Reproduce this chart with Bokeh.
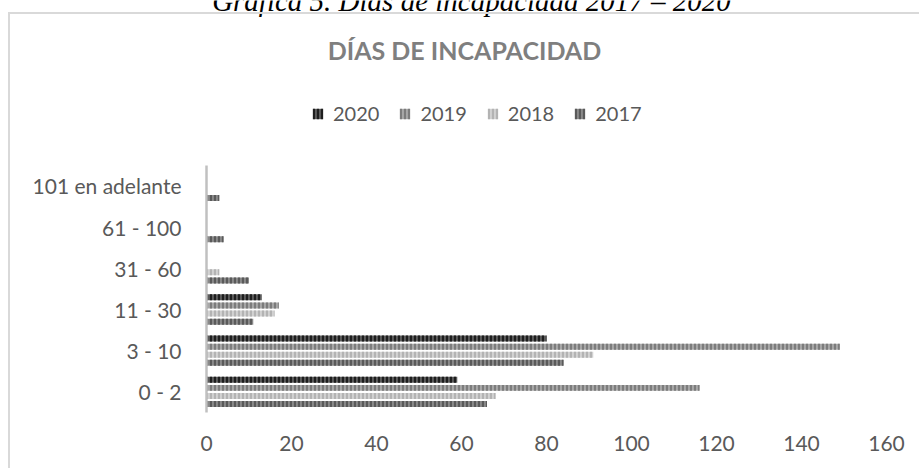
from bokeh.plotting import figure
from bokeh.models import (ColumnDataSource, Range1d, FixedTicker, Legend,
                          LegendItem, Label, InlineStyleSheet)
from bokeh.transform import dodge
from bokeh.embed import file_html
from bokeh.resources import INLINE

# ---- data ----
categories = ["0 - 2", "3 - 10", "11 - 30", "31 - 60", "61 - 100", "101 en adelante"]
v2017 = [66, 84, 11, 10, 4, 3]
v2018 = [68, 91, 16, 3, 0, 0]
v2019 = [116, 149, 17, 0, 0, 0]
v2020 = [59, 80, 13, 0, 0, 0]
x_ticks = [0, 20, 40, 60, 80, 100, 120, 140, 160]
title_text = "DÍAS DE INCAPACIDAD"
caption_text = "Gráfica 5. Días de incapacidad 2017 – 2020"

# category slots on the vertical axis (one unit per category)
ypos = [i + 0.5 for i in range(len(categories))]
source = ColumnDataSource(dict(cat=categories, ypos=ypos, v2017=v2017, v2018=v2018,
                               v2019=v2019, v2020=v2020))

FONT = "Lato"
TXT = "#595959"

p = figure(width=919, height=468, output_backend="svg", toolbar_location=None,
           y_range=Range1d(0, 10), x_range=Range1d(0, 160),
           min_border_left=206, min_border_right=33, min_border_top=0,
           min_border_bottom=56, frame_width=680, frame_height=412)
# light grey chart-area border (starts at x=8, y=12 and runs past the window)
# and the wide letter spacing of the chart title
p.stylesheets = [InlineStyleSheet(css=(
    ":host::after { content: ''; position: absolute; left: 8px; top: 12px; "
    "width: 1200px; height: 1200px; border: 2px solid #d9d9d9; "
    "pointer-events: none; box-sizing: border-box; } "
    "text[font-size='25px'] { letter-spacing: 4.5px; }"))]
p.outline_line_color = None
p.xgrid.visible = False
p.ygrid.visible = False
p.background_fill_color = "white"
p.border_fill_color = "white"

series = [
    ("2017", "v2017", -0.295, "#8a8a8a", "#5a5a5a"),
    ("2018", "v2018", -0.098, "#d2d2d2", "#b3b3b3"),
    ("2019", "v2019", 0.098, "#a8a8a8", "#7c7c7c"),
    ("2020", "v2020", 0.295, "#5c5c5c", "#1e1e1e"),
]
renderers = {}
for name, col, off, fill, hatch in series:
    r = p.hbar(y=dodge("ypos", off), right=col, left=0, height=0.145,
               source=source, fill_color=fill, line_color=None,
               hatch_pattern="vertical_line", hatch_color=hatch,
               hatch_scale=4, hatch_weight=2.2)
    renderers[name] = r

# axes
ya = p.yaxis[0]
ya.ticker = FixedTicker(ticks=ypos)
ya.major_label_overrides = {y: c for y, c in zip(ypos, categories)}
ya.bounds = (0, len(categories))
ya.axis_line_color = "#c0c0c0"
ya.axis_line_width = 2.5
ya.major_tick_line_color = None
ya.minor_tick_line_color = None
ya.major_label_text_font = FONT
ya.major_label_text_font_size = "21px"
ya.major_label_text_color = TXT
ya.major_label_standoff = 19

xa = p.xaxis[0]
xa.ticker = FixedTicker(ticks=x_ticks)
xa.axis_line_color = None
xa.major_tick_line_color = None
xa.minor_tick_line_color = None
xa.major_label_text_font = FONT
xa.major_label_text_font_size = "21px"
xa.major_label_text_color = TXT
xa.major_label_standoff = 17

# legend
items = [LegendItem(label=n, renderers=[renderers[n]]) for n in ["2020", "2019", "2018", "2017"]]
legend = Legend(items=items, orientation="horizontal", location=(105, 287),
                glyph_width=13, glyph_height=13, label_standoff=9, spacing=19,
                padding=0, margin=0, border_line_color=None, background_fill_alpha=0,
                label_text_font=FONT, label_text_font_size="20px", label_text_color=TXT)
p.add_layout(legend, "center")

# chart title
p.add_layout(Label(x=258, y=363, x_units="screen", y_units="screen", text=title_text,
                   text_align="center", text_baseline="alphabetic", text_font=FONT,
                   text_font_style="bold", text_font_size="25px", text_color="#7f7f7f"))

# document caption (cut off at the top, as in the reference)
p.add_layout(Label(x=265, y=412, x_units="screen", y_units="screen", text=caption_text,
                   text_align="center", text_baseline="alphabetic",
                   text_font="Liberation Serif", text_font_style="italic",
                   text_font_size="29px", text_color="#000000"))

open("out.html", "w").write(file_html(p, INLINE))
